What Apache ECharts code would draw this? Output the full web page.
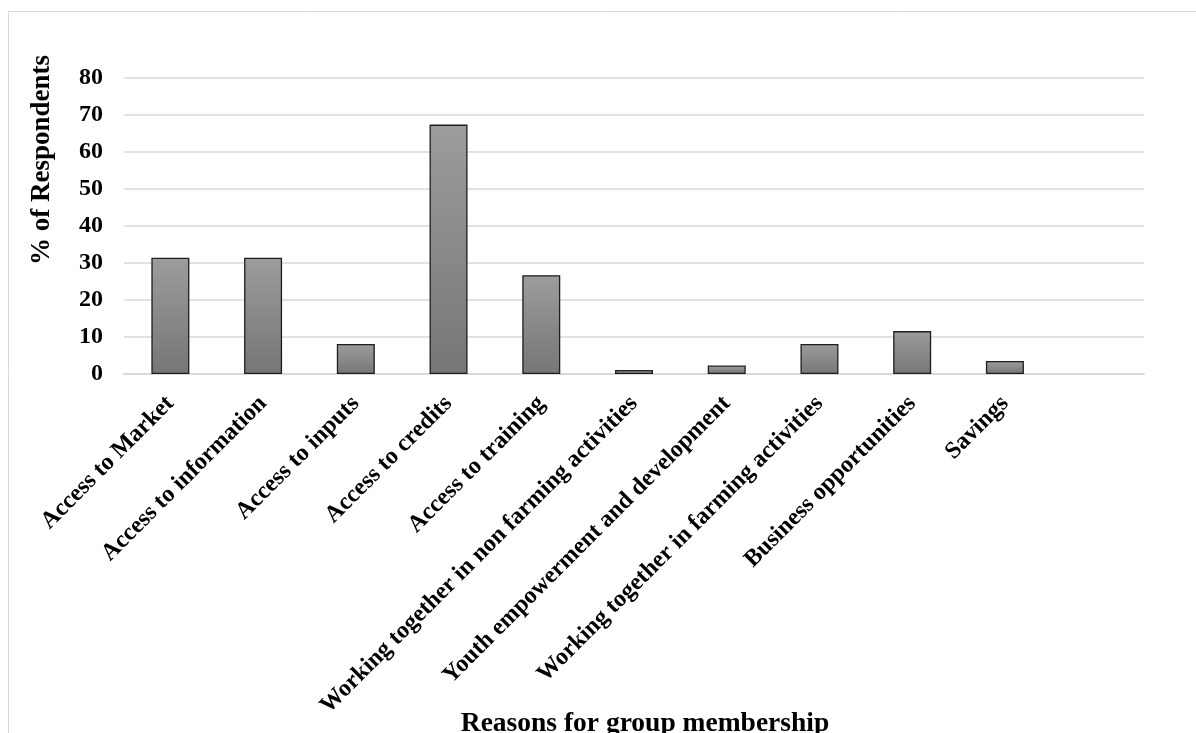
<!DOCTYPE html>
<html>
<head>
<meta charset="utf-8">
<script src="https://cdn.jsdelivr.net/npm/echarts@6/dist/echarts.min.js"></script>
<style>
html,body{margin:0;padding:0;background:#fff;}
#c{width:1196px;height:733px;}
</style>
</head>
<body>
<div id="c"></div>
<script>
const categories = [
  "Access to Market",
  "Access to information",
  "Access to inputs",
  "Access to credits",
  "Access to training",
  "Working together in non farming activities",
  "Youth empowerment and development",
  "Working together in farming activities",
  "Business opportunities",
  "Savings",
  ""
];
const values = [31.4, 31.4, 8.1, 67.4, 26.7, 1.1, 2.3, 8.1, 11.6, 3.5, null];
const yTicks = { min: 0, max: 80, interval: 10 };

const FONT = '"Liberation Serif", "Times New Roman", serif';
const chart = echarts.init(document.getElementById('c'));
chart.setOption({
  animation: false,
  backgroundColor: '#fff',
  title: {
    text: 'Reasons for group membership',
    left: 640, top: 705,
    textAlign: 'center',
    textStyle: { fontFamily: FONT, fontWeight: 'bold', fontSize: 27.5, color: '#000' }
  },
  graphic: [
    { type: 'rect', shape: { x: 8.5, y: 11.5, width: 1300, height: 800 },
      style: { fill: 'none', stroke: '#d9d9d9', lineWidth: 1 }, silent: true },
    { type: 'text', left: 29, top: 55, rotation: Math.PI / 2,
      style: { text: '% of Respondents', font: 'bold 27px ' + FONT, fill: '#000' } }
  ],
  grid: { left: 124, right: 52, top: 78, bottom: 359 },
  xAxis: {
    type: 'category',
    data: categories,
    axisLine: { show: true, lineStyle: { color: '#d9d9d9', width: 2 } },
    axisTick: { show: false },
    axisLabel: {
      interval: 0, rotate: 45, margin: 26,
      fontFamily: FONT, fontWeight: 'bold', fontSize: 24, color: '#000'
    }
  },
  yAxis: {
    type: 'value',
    min: yTicks.min, max: yTicks.max, interval: yTicks.interval,
    axisLine: { show: false },
    axisTick: { show: false },
    axisLabel: { margin: 21, fontFamily: FONT, fontWeight: 'bold', fontSize: 24, color: '#000' },
    splitLine: { lineStyle: { color: '#d9d9d9', width: 1.5 } }
  },
  series: [{
    type: 'bar',
    data: values,
    barWidth: 38,
    itemStyle: {
      color: new echarts.graphic.LinearGradient(0, 0, 0, 1, [
        { offset: 0, color: '#9c9c9c' },
        { offset: 1, color: '#767676' }
      ]),
      borderColor: '#1e1e1e',
      borderWidth: 1.3
    }
  }]
});
</script>
</body>
</html>
